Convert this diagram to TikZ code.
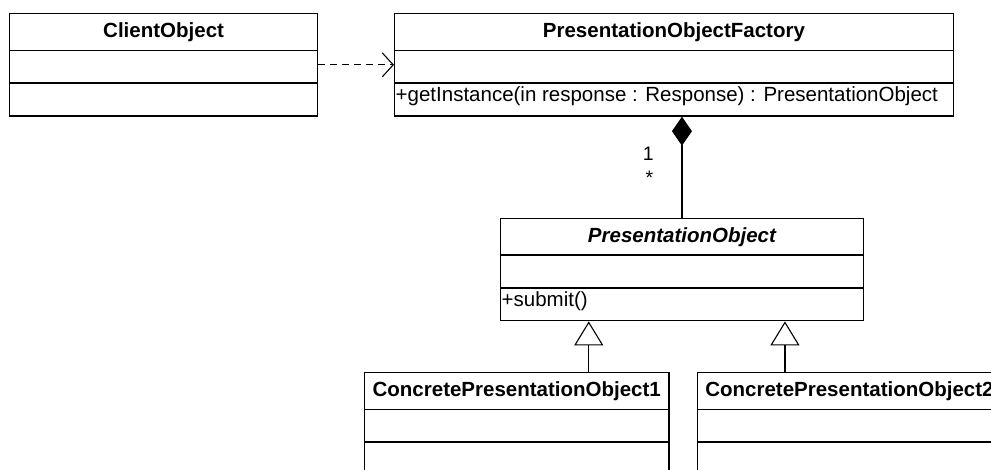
\documentclass[tikz,border=0pt]{standalone}
\usepackage{fontspec}
\setmainfont{Liberation Sans}
\usetikzlibrary{arrows.meta}

\tikzset{
  classbox/.style={draw, line width=1.2pt, minimum height=102.5pt, inner sep=0pt, fill=white},
  sep/.style={line width=1.7pt},
  titletext/.style={inner sep=0pt, font=\fontsize{20.5pt}{24pt}\selectfont\bfseries},
  optext/.style={inner sep=0pt, font=\fontsize{20.5pt}{24pt}\selectfont},
  multlabel/.style={inner sep=0pt, anchor=base, font=\fontsize{19.5pt}{23pt}\selectfont},
  dep/.style={line width=1.1pt, dash pattern=on 7pt off 5pt,
    -{Straight Barb[length=11pt,width=24pt,line width=1.1pt]}},
  gen/.style={line width=1.1pt, -{Triangle[open,length=24pt,width=29pt,line width=1.1pt]}},
  comp/.style={line width=1.1pt, -{Diamond[length=29pt,width=20pt]}},
}

% class box: name, left x, top y, width, title, operation
\newcommand\umlclass[6]{%
  \node[classbox, minimum width=#4pt, anchor=north west] (#1) at (#2,#3) {};
  \draw[sep] ([yshift=-37.5pt]#1.north west) -- ([yshift=-37.5pt]#1.north east);
  \draw[sep] ([yshift=-70pt]#1.north west) -- ([yshift=-70pt]#1.north east);
  \node[titletext, anchor=base] (#1-title) at ([yshift=-24.5pt]#1.north) {#5};
  \node[optext, anchor=base west] (#1-op) at ([yshift=-89pt,xshift=1.5pt]#1.north west) {#6};
}

\begin{document}
\begin{tikzpicture}[x=1pt, y=-1pt]
  \clip (0,0) rectangle (991,470);
  \fill[white] (0,0) rectangle (991,470);

  \umlclass{client}{9}{13}{308}{ClientObject}{}
  \umlclass{fac}{394}{13}{558.7}{PresentationObjectFactory}{+getInstance(in response : Response) : PresentationObject}
  \umlclass{po}{500}{217.7}{362.7}{\itshape PresentationObject}{+submit()}
  \umlclass{c1}{364}{372}{304.3}{ConcretePresentationObject1}{}
  \umlclass{c2}{696.7}{372}{304.3}{ConcretePresentationObject2}{}

  % dependency
  \draw[dep] (client.east) -- (client.east -| fac.west);

  % composition
  \draw[comp] (po.north) -- (po.north |- fac.south);
  \node[multlabel] (m1) at (648.3,161) {1};
  \node[multlabel] (m2) at (649.5,185) {*};

  % generalizations
  \draw[gen] ([xshift=72pt]c1.north) -- ([xshift=72pt]c1.north |- po.south);
  \draw[gen] ([xshift=-64.5pt]c2.north) -- ([xshift=-64.5pt]c2.north |- po.south);
\end{tikzpicture}
\end{document}
